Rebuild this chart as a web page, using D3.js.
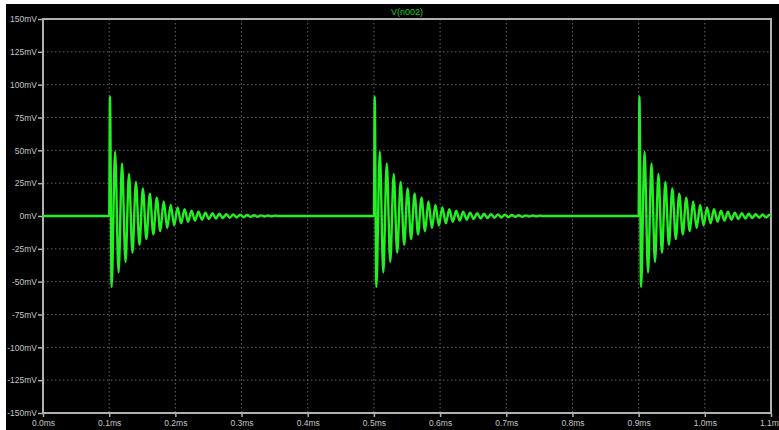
<!DOCTYPE html>
<html>
<head>
<meta charset="utf-8">
<script src="https://cdn.jsdelivr.net/npm/d3@7"></script>
<style>
  body { margin: 0; background: #fff; }
  text { font-family: "Liberation Sans", Arial, sans-serif; }
</style>
</head>
<body>
<div class="plot"></div>
<script>
const width = 779;
const height = 430;
const margin = { top: 19, right: 8, bottom: 17, left: 43 };

// axis ticks
const yTicks = [150, 125, 100, 75, 50, 25, 0, -25, -50, -75, -100, -125, -150];
const xTicks = [0, 0.1, 0.2, 0.3, 0.4, 0.5, 0.6, 0.7, 0.8, 0.9, 1.0, 1.1];
const xLabels = ["0.0ms", "0.1ms", "0.2ms", "0.3ms", "0.4ms", "0.5ms", "0.6ms", "0.7ms", "0.8ms", "0.9ms", "1.0ms", "1.1ms"];
const yLabels = ["150mV", "125mV", "100mV", "75mV", "50mV", "25mV", "0mV", "-25mV", "-50mV", "-75mV", "-100mV", "-125mV", "-150mV"];

// pulse start times (ms)
const burstStarts = [0.1, 0.5, 0.9];

// ringing after each pulse: time after pulse (ms) and V (mV)
const burstOffsets = [0, 0.0012, 0.0037, 0.0089, 0.0142, 0.0194, 0.0247, 0.0299, 0.0352, 0.0404,
  0.0457, 0.0509, 0.0562, 0.0614, 0.0667, 0.0719, 0.0772, 0.0824, 0.0877, 0.0929,
  0.0982, 0.1034, 0.1087, 0.1139, 0.1192, 0.1244, 0.1297, 0.1349, 0.1402, 0.1454,
  0.1507, 0.1559, 0.1612, 0.1664, 0.1717, 0.1769, 0.1822, 0.1874, 0.1927, 0.1979,
  0.2032, 0.2084, 0.2137, 0.2189, 0.2242, 0.2294, 0.2347, 0.2399, 0.2452, 0.2504, 0.2557];
const burstValues = [0, 91, -54, 49, -43, 40, -35, 32, -28, 26,
  -22, 21, -17.5, 17, -14, 14, -11.5, 11, -9.2, 8.5,
  -7.2, 6.6, -5.6, 5.1, -4.4, 4.0, -3.5, 3.2, -2.8, 2.6,
  -2.3, 2.1, -1.9, 1.7, -1.5, 1.4, -1.3, 1.2, -1.1, 1.0,
  -0.9, 0.8, -0.7, 0.6, -0.6, 0.5, -0.4, 0.4, -0.3, 0.3, 0];

// build the trace: flat 0 between pulses
const trace = [{ t: 0, v: 0 }];
burstStarts.forEach(start => {
    burstOffsets.forEach((o, i) => trace.push({ t: start + o, v: burstValues[i] }));
});
trace.push({ t: 1.2, v: 0 });

const svg = d3.select(".plot").append("svg")
    .attr("width", width)
    .attr("height", height);

// black panel
svg.append("rect")
    .attr("x", 6).attr("y", 4)
    .attr("width", width - 6).attr("height", height - 4)
    .attr("fill", "#000");

const xScale = d3.scaleLinear()
    .domain([0, 1.1])
    .range([margin.left, width - margin.right]);

const yScale = d3.scaleLinear()
    .domain([-150, 150])
    .range([height - margin.bottom, margin.top]);

// dotted grid
const gridColor = "#666";

svg.append("g")
    .selectAll("line.vgrid")
    .data(xTicks.slice(1, -1))
    .enter().append("line")
    .attr("x1", d => xScale(d)).attr("x2", d => xScale(d))
    .attr("y1", yScale(150)).attr("y2", yScale(-150))
    .attr("stroke", gridColor)
    .attr("stroke-width", 1)
    .attr("stroke-dasharray", "1.5,2.5");

svg.append("g")
    .selectAll("line.hgrid")
    .data(yTicks.slice(1, -1))
    .enter().append("line")
    .attr("x1", xScale(0)).attr("x2", xScale(1.1))
    .attr("y1", d => yScale(d)).attr("y2", d => yScale(d))
    .attr("stroke", gridColor)
    .attr("stroke-width", 1)
    .attr("stroke-dasharray", "1.5,2.5");

// axes
const axisColor = "#b0b0b0";
const labelColor = "#c4c4c4";

const xAxis = d3.axisBottom(xScale)
    .tickValues(xTicks)
    .tickSize(4)
    .tickPadding(3)
    .tickFormat((d, i) => xLabels[i]);

const yAxis = d3.axisLeft(yScale)
    .tickValues(yTicks)
    .tickSize(5)
    .tickPadding(1)
    .tickFormat((d, i) => yLabels[i]);

const gx = svg.append("g")
    .attr("transform", `translate(0, ${yScale(-150)})`)
    .call(xAxis);

const gy = svg.append("g")
    .attr("transform", `translate(${xScale(0)}, 0)`)
    .call(yAxis);

[gx, gy].forEach(g => {
    g.select(".domain").remove();
    g.selectAll("line").attr("stroke", axisColor).attr("stroke-width", 1.5);
    g.selectAll("text")
        .attr("fill", labelColor)
        .style("font-size", "8.5px");
});

// frame
svg.append("rect")
    .attr("x", xScale(0)).attr("y", yScale(150))
    .attr("width", xScale(1.1) - xScale(0))
    .attr("height", yScale(-150) - yScale(150))
    .attr("fill", "none")
    .attr("stroke", axisColor)
    .attr("stroke-width", 2);

// clip for the trace
svg.append("clipPath").attr("id", "plotArea")
    .append("rect")
    .attr("x", xScale(0)).attr("y", yScale(150))
    .attr("width", xScale(1.1) - xScale(0))
    .attr("height", yScale(-150) - yScale(150));

const line = d3.line()
    .x(d => xScale(d.t))
    .y(d => yScale(d.v))
    .curve(d3.curveMonotoneX);

svg.append("path")
    .datum(trace)
    .attr("clip-path", "url(#plotArea)")
    .attr("d", line)
    .attr("fill", "none")
    .attr("stroke", "#22f022")
    .attr("stroke-width", 2.4)
    .attr("stroke-linejoin", "round");

// trace name
svg.append("text")
    .attr("x", (xScale(0) + xScale(1.1)) / 2)
    .attr("y", 15)
    .attr("text-anchor", "middle")
    .attr("fill", "#1ed01e")
    .style("font-size", "9px")
    .text("V(n002)");
</script>
</body>
</html>
